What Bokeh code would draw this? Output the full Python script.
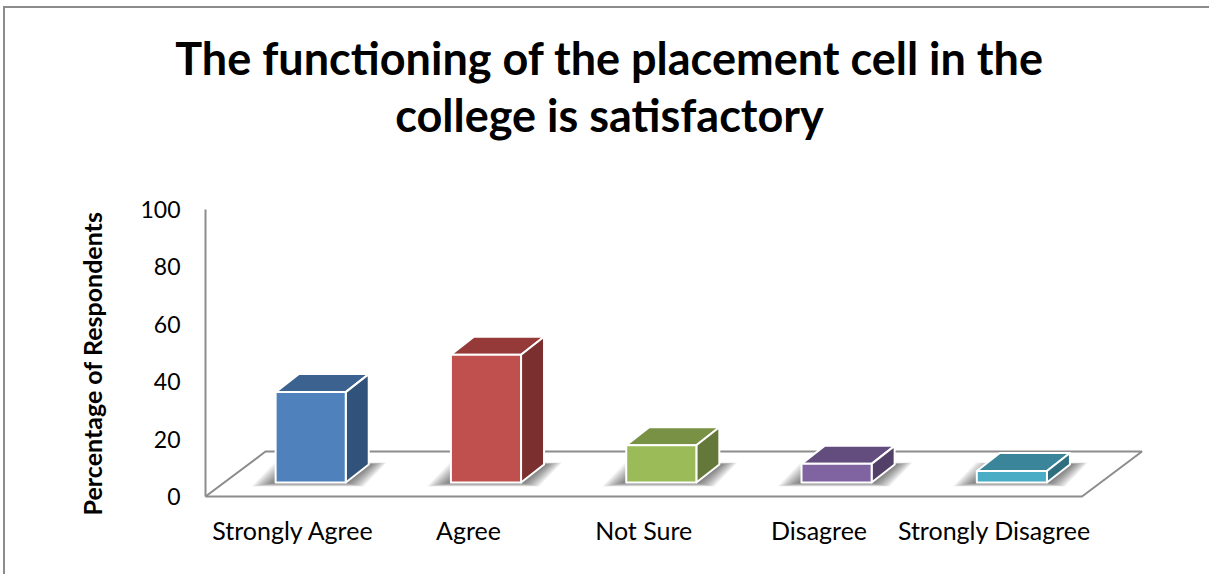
from bokeh.plotting import figure
from bokeh.embed import file_html
from bokeh.resources import INLINE
from bokeh.models import FixedTicker, Label, Range1d, Title

title_lines = ["The functioning of the placement cell in the", "college is satisfactory"]
y_label = "Percentage of Respondents"
categories = ["Strongly Agree", "Agree", "Not Sure", "Disagree", "Strongly Disagree"]
values = [31.5, 44.5, 13, 6.5, 4]
y_ticks = [0, 20, 40, 60, 80, 100]
front_colors = ["#4F81BD", "#C0504D", "#9BBB59", "#8064A2", "#4BACC6"]
top_colors = ["#3C6390", "#953A38", "#789145", "#634D7E", "#3A859A"]
side_colors = ["#31527A", "#7B2F2E", "#64783A", "#524068", "#2F6E7F"]

# Scale: pixels per x unit and per y unit
UX, UY = 175.3, 2.87
# Window position of the data origin, and of the figure's canvas
X0, Y0 = 205, 496
CANVAS_L, CANVAS_T, CANVAS_R, CANVAS_B = 5, 8, 1211, 576
FRAME_L, FRAME_T = 7, 152

dx = lambda px: px / UX
dy = lambda px: px / UY

p = figure(
    width=CANVAS_R - CANVAS_L, height=CANVAS_B - CANVAS_T,
    output_backend="svg", toolbar_location=None,
    x_range=Range1d(dx(FRAME_L - X0), dx(CANVAS_R - X0)),
    y_range=Range1d(dy(Y0 - CANVAS_B), dy(Y0 - FRAME_T)),
    min_border_left=FRAME_L - CANVAS_L, min_border_right=0,
    min_border_bottom=0, min_border_top=FRAME_T - CANVAS_T,
    outline_line_color=None, background_fill_color="white", border_fill_color="white",
)
p.styles = {"margin": "6px 0 0 3px", "border-left": "2px solid #8c8c8c", "border-top": "2px solid #8c8c8c"}
p.grid.visible = False

p.title.text = title_lines[0]
second_line = Title(text=title_lines[1])
for t in (p.title, second_line):
    t.align = "center"
    t.text_font = "Lato"
    t.text_font_style = "bold"
    t.text_font_size = "45px"
    t.text_color = "black"
p.add_layout(second_line, "above")
second_line.standoff = 21
p.title.standoff = -18

GRAY = "#8c8c8c"
AXIS_FONT = "Lato"
for ax in (p.xaxis[0], p.yaxis[0]):
    ax.fixed_location = 0
    ax.axis_line_color = GRAY
    ax.axis_line_width = 2
    ax.major_tick_line_color = None
    ax.minor_tick_line_color = None
    ax.major_label_text_font = AXIS_FONT
    ax.major_label_text_color = "black"

p.yaxis[0].ticker = FixedTicker(ticks=y_ticks)
p.yaxis[0].bounds = (0, 100)
p.yaxis[0].major_label_standoff = 19
p.yaxis[0].major_label_text_font_size = "23px"

n = len(categories)
p.xaxis[0].ticker = FixedTicker(ticks=[i + 0.5 for i in range(n)])
p.xaxis[0].major_label_overrides = {i + 0.5: c for i, c in enumerate(categories)}
p.xaxis[0].bounds = (0, n)
p.xaxis[0].major_label_standoff = 12
p.xaxis[0].major_label_text_font_size = "25px"

# Floor: the side and back edges (the front edge is the x axis)
FLOOR_DX, FLOOR_DY = dx(60), dy(45)
p.line([0, FLOOR_DX, n + FLOOR_DX, n], [0, FLOOR_DY, FLOOR_DY, 0], line_color=GRAY, line_width=2)

BAR_START, BAR_W = 0.4, 0.4
BASE = dy(14)
DEPTH_X, DEPTH_Y = dx(23), dy(18)

# Soft shadow layers: px expansion to left / right / down / up, stepped towards the bar
SHADOW_STEPS = 16
SHADOW_ALPHA = 0.05

for i, v in enumerate(values):
    l, r = i + BAR_START, i + BAR_START + BAR_W
    for k in range(SHADOW_STEPS):
        f = 1 - k / SHADOW_STEPS
        el, er, ed, eu = 24 * f, 18 * f, 4 * f, 2 * f
        s_b, s_t = BASE - dy(ed), BASE + DEPTH_Y + dy(eu)
        p.patch([l - dx(el), r + dx(er), r + DEPTH_X + dx(er), l + DEPTH_X - dx(el)],
                [s_b, s_b, s_t, s_t], fill_color="#303030", fill_alpha=SHADOW_ALPHA, line_color=None)
    top = BASE + v
    stroke = dict(line_color="white", line_width=2, line_join="round")
    p.patch([l, r, r + DEPTH_X, l + DEPTH_X], [top, top, top + DEPTH_Y, top + DEPTH_Y],
            fill_color=top_colors[i], **stroke)
    p.patch([r, r + DEPTH_X, r + DEPTH_X, r], [BASE, BASE + DEPTH_Y, top + DEPTH_Y, top],
            fill_color=side_colors[i], **stroke)
    p.patch([l, r, r, l], [BASE, BASE, top, top], fill_color=front_colors[i], **stroke)

p.add_layout(Label(x=dx(91 - X0), y=dy(Y0 - 363), text=y_label, angle=90, angle_units="deg",
                   text_font="Lato", text_font_style="bold", text_font_size="25px",
                   text_align="center", text_baseline="middle", text_color="black"))

open("out.html", "w").write(file_html(p, INLINE))
